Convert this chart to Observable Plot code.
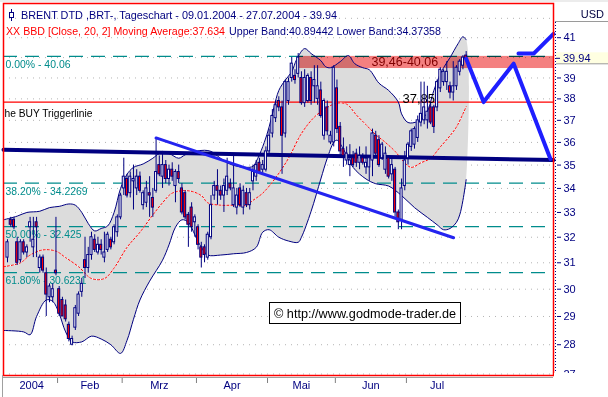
<!DOCTYPE html>
<html>
<head>
<meta charset="utf-8">
<script src="https://cdn.jsdelivr.net/npm/d3@7"></script>
<script src="https://cdn.jsdelivr.net/npm/@observablehq/plot@0.6"></script>
<style>
  html, body { margin: 0; padding: 0; background: #ffffff; }
  #chart { width: 608px; height: 397px; overflow: hidden; }
  #chart svg { display: block; }
</style>
</head>
<body>
<div id="chart"></div>
<script>
// ---- candle data (trading-day index 0 = 09.01.2004 ... 142 = 27.07.2004)
const opens = [31.2,32.7,32.7,31.8,31.1,31.8,31.4,32.4,31.6,32.6, 30.8,31.2,30.6,29.7,29.7,30.7,30.0,29.6,29.4,28.7, 28.0,28.6,29.1,29.9,31.1,30.8,31.3,31.9,31.4,31.7, 31.2,31.5,31.9,31.8,32.2,32.8,34.0,34.4,33.8,34.3, 34.0,34.5,33.3,33.4,33.8,33.6,33.9,35.0,34.5,35.0, 34.4,34.8,34.1,34.7,34.0,33.8,32.9,33.2,32.6,32.4, 31.6,31.6,31.2,32.0,33.7,34.1,33.9,33.7,33.9,34.2, 33.3,33.2,34.0,33.2,33.8,33.3,34.3,34.5,35.1,34.8, 34.8,35.6,36.4,37.1,37.9,37.6,36.4,37.9,39.0,39.1, 39.2,39.0,37.8,37.9,39.0,38.6,38.0,38.4,36.3,37.6, 36.0,36.0,38.5,36.7,35.7,35.2,35.0,35.3,35.5,35.1, 35.3,34.9,34.9,35.2,36.3,36.1,35.3,34.8,35.3,34.6, 34.8,33.0,32.7,34.1,35.3,35.8,35.9,36.2,36.9,37.0, 37.0,37.6,37.6,37.6,38.5,38.8,38.8,38.6,38.3,38.6, 39.3,39.6,40.1];
const highs = [31.9,32.8,32.8,32.0,31.9,31.9,31.7,32.8,32.8,32.8, 31.3,31.3,30.8,30.2,30.2,32.8,30.1,29.7,29.6,28.8, 28.3,29.4,29.9,30.4,32.0,31.6,32.2,32.1,32.0,31.9, 32.2,32.2,32.0,32.5,32.9,33.8,35.3,34.6,34.7,35.0, 34.8,34.7,33.9,34.3,34.5,34.0,36.2,35.4,35.6,35.2, 35.0,35.1,34.8,35.0,34.2,33.9,33.0,33.4,32.9,32.5, 31.8,31.7,32.2,33.7,34.3,34.8,34.1,34.4,35.3,34.4, 35.5,34.0,34.2,34.1,34.0,34.0,35.0,35.2,35.3,35.2, 35.8,36.6,37.5,37.9,38.1,37.9,38.9,39.0,40.0,39.4, 40.2,39.3,39.4,39.2,39.3,39.6,39.6,38.8,38.0,37.9, 36.5,39.6,38.9,36.9,36.2,35.8,35.9,35.6,35.7,35.8, 35.5,35.8,35.4,36.6,36.5,36.3,36.0,35.8,35.4,35.3, 34.9,33.1,34.4,35.6,36.0,36.6,36.7,37.2,38.8,38.8, 38.6,37.8,37.7,38.9,39.5,39.4,39.8,38.8,39.8,39.6, 39.9,40.1,40.3];
const lows = [31.0,32.4,32.3,30.9,31.0,31.3,31.2,31.8,31.2,31.2, 30.6,30.6,29.0,29.5,29.5,30.5,29.0,29.0,28.8,28.1, 27.96,28.5,29.0,29.7,30.4,30.6,31.1,31.4,31.3,31.3, 31.0,31.4,31.5,31.7,32.0,32.7,33.7,33.6,33.6,33.1, 33.7,33.8,33.1,33.2,32.8,32.8,33.8,34.5,34.0,34.2, 34.1,34.3,33.4,34.2,32.9,32.7,31.6,32.2,32.0,31.5, 30.8,31.0,31.1,31.9,33.5,33.3,33.5,33.0,33.7,33.9, 33.2,32.9,33.2,32.9,33.2,33.1,33.9,34.3,34.6,34.6, 34.7,35.4,36.2,36.9,37.4,34.6,36.2,37.7,38.8,38.7, 39.0,37.7,37.6,37.8,37.7,37.8,37.7,37.1,36.1,36.3, 35.9,35.8,36.4,35.4,34.9,35.0,34.5,34.9,34.9,34.8, 35.0,34.6,34.3,34.5,35.3,34.9,35.2,34.6,34.4,34.3, 32.8,32.3,32.3,33.9,35.0,35.6,35.7,36.0,36.7,36.8, 36.6,36.8,36.4,37.4,38.3,38.6,38.4,38.0,37.9,38.4, 39.1,39.4,39.8];
const closes = [31.8,32.5,32.4,31.0,31.8,31.4,31.6,32.6,31.9,32.4, 31.2,30.7,29.8,30.1,30.0,30.6,29.1,29.0,28.9,28.2, 28.2,29.3,29.8,30.2,30.8,31.3,32.0,31.5,31.7,31.5, 31.4,32.1,31.6,32.4,32.8,33.7,34.5,33.7,34.5,34.4, 34.5,33.9,33.8,34.0,33.7,33.2,34.7,34.6,35.0,34.4, 34.8,34.5,34.7,34.4,33.0,32.8,32.5,32.4,32.8,31.7, 31.2,31.3,32.1,33.3,34.1,33.9,33.7,34.1,34.5,34.0, 34.0,33.7,33.3,33.9,33.3,33.8,34.7,35.0,34.7,35.0, 35.6,36.3,37.2,37.7,37.6,36.3,38.8,38.8,39.7,38.9, 40.0,37.8,39.0,39.1,37.9,38.9,38.6,37.2,37.9,36.5, 36.3,39.5,36.6,35.6,35.4,35.5,35.2,35.0,35.1,35.4, 35.1,35.1,35.3,36.4,35.5,35.0,35.9,35.5,34.5,35.0, 33.0,32.6,34.0,35.2,35.9,36.5,36.6,37.0,37.3,37.6, 37.4,36.9,36.7,38.8,39.4,39.3,39.3,38.3,38.6,39.5, 39.8,40.0,39.94];

// ---- Bollinger bands (20, 2)
const upperIdx  = [-1.24,3,6,10,13,16,19,21,23,25,27,29,31,33,35,37,39,42,45,47,50,53,55,58,61,63,65,68,71,74,76,77.5,79.5,81,82.5,84,86,88,89.5,92,94,97,98.5,100,103,105.5,107.5,110,112,115,118,121,122,124,127,129.5,132,134,135,137,139.5,141,142];
const upperVals = [32.7,32.85,33.0,33.05,33.2,33.25,33.35,33.3,33.0,32.55,32.25,32.35,32.45,33.0,34.0,34.6,34.9,35.05,35.3,35.5,35.5,35.3,35.45,35.6,35.65,35.6,35.4,35.1,34.95,34.9,34.95,35.3,36.0,36.7,37.6,38.4,38.9,39.3,39.9,40.45,40.2,39.85,39.55,39.5,39.8,40.1,39.7,39.5,39.4,38.75,38.4,37.85,37.3,36.9,36.95,37.25,38.4,39.2,39.5,40.0,40.7,41.05,40.89442];
const lowerIdx  = [-1.24,5,7,9,12,14,16,18,20,23,26,29,32,35,37,39,41,44,48,50,52,54,56,58,60,62,66,70,74,77,79,81,84,87,90,91,94,97,99,101,102,104,107,111,114,118,122,126,130,133,135,137,139,140,141,142];
const lowerVals = [28.5,28.45,28.35,29.0,29.6,29.55,29.1,28.45,28.1,28.1,28.3,28.2,28.0,27.7,28.15,28.9,29.6,30.3,31.1,31.7,32.4,32.7,32.6,32.1,31.6,31.3,31.3,31.35,31.4,31.6,32.2,32.3,32.0,31.85,31.8,32.0,33.05,34.4,35.3,36.0,36.1,35.7,34.9,34.4,34.2,34.1,33.7,33.2,32.8,32.5,32.3,32.35,32.6,32.9,33.5,34.37358];
const maIdx  = [-1.24,4,7,11,15,18,22,26,30,33,37,41,45,48,51,56,60,62,66,70,74,76,79,83,87,91,95,99,102,105,108,111,114,117,120,123,125,128,131,134,137,139,141,142];
const maVals = [30.85,31.0,31.3,31.5,31.45,31.2,30.85,30.4,30.4,30.8,31.6,32.2,32.9,33.4,33.8,33.9,33.7,33.4,33.3,33.3,33.3,33.5,33.8,34.45,35.3,36.4,37.15,37.6,37.8,37.75,37.25,36.8,36.35,36.0,35.6,35.1,34.9,35.1,35.3,35.8,36.3,36.7,37.3,37.634];

// ---- drawn lines / levels
const supportIdx = [-1.24, 169.04], supportVals = [35.67, 35.22];
const trendIdx = [46, 138.1], trendVals = [36.2, 31.98];
const projAIdx = [142, 147.4, 156.7, 168.1], projAVals = [39.94, 37.85, 39.7, 35.27];
const projBIdx = [158.2, 162.9, 169.04], projBVals = [40.2, 40.2, 41.2];
const fibPct = ["0.00%", "38.20%", "50.00%", "61.80%"];
const fibVals = [40.06, 34.2269, 32.425, 30.6231];
const buyTrigger = 37.85;
const zoneLow = 39.46, zoneHigh = 40.06, zoneStartIdx = 90.1;
const lastClose = 39.94;

// ---- axis labels
const monthLabels = ["2004", "Feb", "Mrz", "Apr", "Mai", "Jun", "Jul"];
const monthStartIdx = [0, 16, 36, 59, 81, 102, 124];
const yTicks = [27, 28, 29, 30, 31, 32, 33, 34, 35, 36, 37, 38, 39, 41];
const gridPrices = [27, 28, 29, 30, 31, 32, 33, 34, 35, 36, 37, 38, 39, 40, 41, 42];

// ---- derived tables
const xLeft = -1.24, xRight = 169.04;
const candles = closes.map((c, i) => ({ i, o: opens[i], h: highs[i], l: lows[i], c }));
const pts = (xs, vs) => xs.map((x, k) => ({ x, v: vs[k] }));
const upper = pts(upperIdx, upperVals), lower = pts(lowerIdx, lowerVals), ma = pts(maIdx, maVals);
const bandPoly = upper.concat(lower.slice().reverse());
const support = pts(supportIdx, supportVals), trend = pts(trendIdx, trendVals);
const projA = pts(projAIdx, projAVals), projB = pts(projBIdx, projBVals);
const fib = fibVals.map((v, k) => ({ v, label: `${fibPct[k]} - ${v}` }));
const zone = { x1: zoneStartIdx, x2: xRight, y1: zoneLow, y2: zoneHigh };
const lastIdx = closes.length - 1;
const monthTicks = monthStartIdx.slice(1).map(s => s - 0.5);
const monthLbl = monthLabels.map((m, k) => {
  const a = Math.max(xLeft, monthStartIdx[k] - 0.5);
  const b = k + 1 < monthStartIdx.length ? monthStartIdx[k + 1] - 0.5 : lastIdx + 0.5;
  return { x: (a + b) / 2, label: m };
});
const fmt = v => v.toFixed(2).replace(".", ",");

const FONT = "'Liberation Sans', Arial, Helvetica, sans-serif";
const plot = Plot.plot({
  width: 608, height: 397,
  marginTop: 3, marginBottom: 22, marginLeft: 3, marginRight: 55,
  x: { type: "linear", domain: [xLeft, xRight], axis: null },
  y: { type: "log", domain: [26.95, 42.78], axis: null },
  style: { background: "#ffffff", color: "#000080", fontFamily: FONT, fontSize: "11px", overflow: "visible" },
  marks: [
    Plot.ruleY(gridPrices, { stroke: "#b4b4b4", strokeDasharray: "1,5" }),
    Plot.line(bandPoly, { x: "x", y: "v", fill: "#dcdcdc", stroke: "none", curve: "catmull-rom" }),
    Plot.ruleY(fibVals, { stroke: "#008c8c", strokeWidth: 1.3, strokeDasharray: "14,8" }),
    Plot.ruleY([buyTrigger], { stroke: "#ff0000", strokeWidth: 1.2 }),
    Plot.rect([zone], { x1: "x1", x2: "x2", y1: "y1", y2: "y2", fill: "#f48080", mixBlendMode: "multiply" }),
    Plot.line(upper, { x: "x", y: "v", stroke: "#000080", strokeWidth: 1, curve: "catmull-rom" }),
    Plot.line(lower, { x: "x", y: "v", stroke: "#000080", strokeWidth: 1, curve: "catmull-rom" }),
    Plot.line(ma, { x: "x", y: "v", stroke: "#ffffff", strokeWidth: 1, curve: "catmull-rom" }),
    Plot.line(ma, { x: "x", y: "v", stroke: "#ff0000", strokeWidth: 1, strokeDasharray: "2,2", curve: "catmull-rom" }),
    Plot.line(support, { x: "x", y: "v", stroke: "#000080", strokeWidth: 4 }),
    Plot.text(fib, { y: "v", text: "label", frameAnchor: "left", dx: 2, textAnchor: "start", lineAnchor: "top", dy: 4, fill: "#008c8c" }),
    Plot.text(["he BUY Triggerlinie"], { y: buyTrigger, text: d => d, frameAnchor: "left", dx: 1, textAnchor: "start", lineAnchor: "top", dy: 7, fill: "#000000" }),
    Plot.text([buyTrigger], { x: 122.3, y: d => d, text: fmt, textAnchor: "start", lineAnchor: "bottom", dy: 1, fill: "#000000", fontSize: 13 }),
    Plot.text([zone], { x: 123, y: d => Math.sqrt(d.y1 * d.y2), text: d => `${fmt(d.y1)}-${fmt(d.y2)}`, fill: "#800000", fontSize: 12.5 }),
    Plot.ruleX(candles, { x: "i", y1: "l", y2: "h", stroke: "#000080", strokeWidth: 1 }),
    Plot.rect(candles, { x1: d => d.i - 0.32, x2: d => d.i + 0.32, y1: "o", y2: "c", fill: d => d.c < d.o ? "#ff0000" : "#ffffff", stroke: "#000080", strokeWidth: 1 }),
    Plot.line(trend, { x: "x", y: "v", stroke: "#2424f0", strokeWidth: 3 }),
    Plot.line(projA, { x: "x", y: "v", stroke: "#1e1eff", strokeWidth: 4 }),
    Plot.line(projB, { x: "x", y: "v", stroke: "#1e1eff", strokeWidth: 4 }),
    Plot.frame({ stroke: "#ff0000", strokeWidth: 1.5 }),
    Plot.axisY(yTicks, { anchor: "right", tickSize: 4, tickPadding: 3, dx: 3, tickFormat: d => String(d), fontSize: 11 }),
    Plot.axisX(monthTicks, { tickSize: 6, tickFormat: () => "", stroke: "#808080", dy: 2 }),
    Plot.text(monthLbl, { x: "x", text: "label", frameAnchor: "bottom", dy: 13, fill: "#000080", fontSize: 11 })
  ]
});
document.getElementById("chart").appendChild(plot);

// ---- decorations outside the data area
const root = d3.select(plot);
const yS = plot.scale("y");
function fitText(str, w) {
  root.selectAll("text").filter(function () { return this.textContent === str; })
    .attr("textLength", w).attr("lengthAdjust", "spacingAndGlyphs");
}
fib.forEach((f, k) => fitText(f.label, [65, 82, 76, 81][k]));
fitText("he BUY Triggerlinie", 88);

const deco = root.append("g").attr("font-family", FONT).attr("text-anchor", "start");
// clip area under right axis
deco.append("rect").attr("x", 554).attr("y", 373).attr("width", 54).attr("height", 24).attr("fill", "#ffffff");
deco.append("rect").attr("x", 0).attr("y", 0).attr("width", 608).attr("height", 2).attr("fill", "#ececec");
// axis lines
deco.append("line").attr("x1", 3).attr("x2", 553).attr("y1", 377.5).attr("y2", 377.5).attr("stroke", "#a0a0a0");
deco.append("line").attr("x1", 2.5).attr("x2", 2.5).attr("y1", 375).attr("y2", 397).attr("stroke", "#a0a0a0");
deco.append("line").attr("x1", 555.5).attr("x2", 555.5).attr("y1", 22).attr("y2", 372).attr("stroke", "#000080").attr("stroke-dasharray", "1,2");
// USD header
deco.append("rect").attr("x", 555).attr("y", 2).attr("width", 53).attr("height", 19.5).attr("fill", "#ffffff");
deco.append("line").attr("x1", 555).attr("x2", 608).attr("y1", 21.5).attr("y2", 21.5).attr("stroke", "#9a9a9a");
deco.append("text").attr("x", 604).attr("y", 18).attr("text-anchor", "end").attr("font-size", 11).attr("fill", "#000040").text("USD");
// last price label
const yl = yS.apply(lastClose);
deco.append("rect").attr("x", 556).attr("y", yl - 6).attr("width", 52).attr("height", 11.5).attr("fill", "#ffffe1");
deco.append("line").attr("x1", 556).attr("x2", 608).attr("y1", yl + 5.5).attr("y2", yl + 5.5).attr("stroke", "#9a9a9a");
deco.append("line").attr("x1", 556).attr("x2", 560).attr("y1", yl).attr("y2", yl).attr("stroke", "#000080");
deco.append("text").attr("x", 563).attr("y", yl + 4).attr("text-anchor", "start").attr("font-size", 11).attr("fill", "#000080").text(lastClose.toFixed(2));
// copyright box
deco.append("rect").attr("x", 269.5).attr("y", 302.5).attr("width", 191).attr("height", 21).attr("fill", "#ffffff").attr("stroke", "#000000");
deco.append("text").attr("x", 274).attr("y", 317.5).attr("text-anchor", "start").attr("font-size", 12).attr("fill", "#000000")
  .attr("textLength", 182).attr("lengthAdjust", "spacingAndGlyphs").text("© http://www.godmode-trader.de");
// title icon
deco.append("line").attr("x1", 11.5).attr("x2", 11.5).attr("y1", 9).attr("y2", 21).attr("stroke", "#000080");
deco.append("rect").attr("x", 9.5).attr("y", 12.5).attr("width", 4).attr("height", 5).attr("fill", "#ffffff").attr("stroke", "#000080");
// title lines
deco.append("text").attr("x", 21).attr("y", 19).attr("text-anchor", "start").attr("font-size", 11).attr("fill", "#000080")
  .attr("textLength", 316).attr("lengthAdjust", "spacingAndGlyphs")
  .text(`BRENT DTD ,BRT-, Tageschart - 09.01.2004 - 27.07.2004 - ${lastClose}`);
deco.append("text").attr("x", 6).attr("y", 35).attr("text-anchor", "start").attr("font-size", 11).attr("fill", "#ff0000")
  .attr("textLength", 219).attr("lengthAdjust", "spacingAndGlyphs")
  .text(`XX BBD [Close, 20, 2] Moving Average:${maVals[maVals.length - 1]}`);
deco.append("text").attr("x", 229).attr("y", 35).attr("text-anchor", "start").attr("font-size", 11).attr("fill", "#000080")
  .attr("textLength", 212).attr("lengthAdjust", "spacingAndGlyphs")
  .text(`Upper Band:${upperVals[upperVals.length - 1]} Lower Band:${lowerVals[lowerVals.length - 1]}`);
</script>
</body>
</html>
